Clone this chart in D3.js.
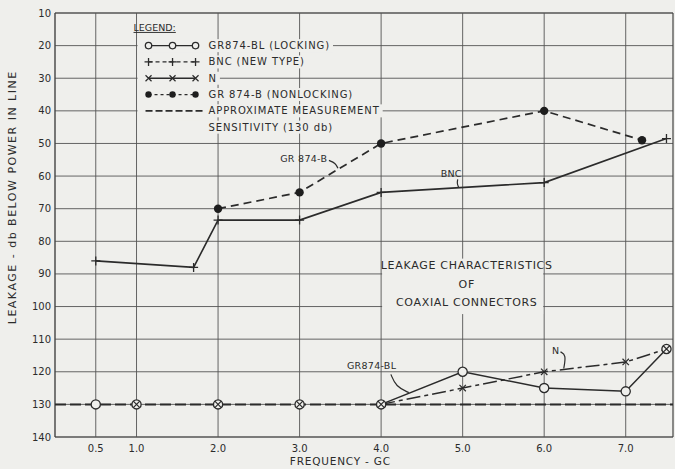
<!DOCTYPE html>
<html>
<head>
<meta charset="utf-8">
<script src="https://cdn.jsdelivr.net/npm/d3@7"></script>
<style>
  html, body { margin: 0; padding: 0; background: #efefec; }
  svg { display: block; }
  text { font-family: "DejaVu Sans", sans-serif; fill: #2b2b2b; }
</style>
</head>
<body>
<div id="chart"></div>
<script>
// values
const freqTicks = [0.5, 1.0, 2.0, 3.0, 4.0, 5.0, 6.0, 7.0];
const dbTicks = [10, 20, 30, 40, 50, 60, 70, 80, 90, 100, 110, 120, 130, 140];

const bncFreq = [0.5, 1.7, 2.0, 3.0, 4.0, 6.0, 7.5];
const bncDb = [86, 88, 73.5, 73.5, 65, 62, 48.5];

const grbFreq = [2.0, 3.0, 4.0, 6.0, 7.2];
const grbDb = [70, 65, 50, 40, 49];

const grblFreq = [0.5, 1.0, 2.0, 3.0, 4.0, 5.0, 6.0, 7.0, 7.5];
const grblDb = [130, 130, 130, 130, 130, 120, 125, 126, 113];

const nFreq = [1.0, 2.0, 3.0, 4.0, 5.0, 6.0, 7.0, 7.5];
const nDb = [130, 130, 130, 130, 125, 120, 117, 113];

const sensitivityDb = 130;

const legendLabels = ["GR874-BL (LOCKING)", "BNC (NEW TYPE)", "N",
  "GR 874-B (NONLOCKING)", "APPROXIMATE MEASUREMENT", "SENSITIVITY (130 db)"];
const titleLines = ["LEAKAGE CHARACTERISTICS", "OF", "COAXIAL CONNECTORS"];

const zip = (fs, ds) => fs.map((f, i) => ({f: f, db: ds[i]}));
const bnc = zip(bncFreq, bncDb);
const grb = zip(grbFreq, grbDb);
const grbl = zip(grblFreq, grblDb);
const nConn = zip(nFreq, nDb);

const width = 675, height = 469;
const margin = {top: 13, right: 2, bottom: 32, left: 55};
const ink = "#2b2b2b", paper = "#efefec";

const x = d3.scaleLinear().domain([0, 7.58]).range([margin.left, width - margin.right]);
const y = d3.scaleLinear().domain([10, 140]).range([margin.top, height - margin.bottom]);

const svg = d3.select("#chart").append("svg")
  .attr("width", width).attr("height", height);

svg.append("rect").attr("width", width).attr("height", height).attr("fill", paper);

// grid
svg.append("g").selectAll("line").data(dbTicks).join("line")
  .attr("x1", x.range()[0]).attr("x2", x.range()[1])
  .attr("y1", d => y(d)).attr("y2", d => y(d))
  .attr("stroke", "#555").attr("stroke-width", d => d === 10 || d === 140 ? 1.4 : 0.9);
svg.append("g").selectAll("line").data(freqTicks).join("line")
  .attr("x1", d => x(d)).attr("x2", d => x(d))
  .attr("y1", y(10)).attr("y2", y(140))
  .attr("stroke", "#555").attr("stroke-width", 0.9);
svg.append("line")
  .attr("x1", x(0)).attr("x2", x(0)).attr("y1", y(10)).attr("y2", y(140))
  .attr("stroke", "#444").attr("stroke-width", 1.4);
svg.append("line")
  .attr("x1", x.range()[1]).attr("x2", x.range()[1]).attr("y1", y(10)).attr("y2", y(140))
  .attr("stroke", "#444").attr("stroke-width", 1.2);

// tick labels
svg.append("g").selectAll("text").data(dbTicks).join("text")
  .attr("x", x(0) - 4).attr("y", d => y(d)).attr("dy", "0.35em")
  .attr("text-anchor", "end").attr("font-size", 10).text(d => d);
svg.append("g").selectAll("text").data(freqTicks).join("text")
  .attr("x", d => x(d)).attr("y", y(140) + 15)
  .attr("text-anchor", "middle").attr("font-size", 10).text(d => d.toFixed(1));

// axis titles
svg.append("text")
  .attr("transform", `translate(16,${y(66.5)}) rotate(-90)`)
  .attr("text-anchor", "middle").attr("font-size", 11).attr("letter-spacing", 1.5)
  .text("LEAKAGE - db BELOW POWER IN LINE");
svg.append("text")
  .attr("x", x(3.5)).attr("y", height - 4)
  .attr("text-anchor", "middle").attr("font-size", 10.5).attr("letter-spacing", 0.8)
  .text("FREQUENCY - GC");

// title block, knocked out of the grid between the 4.0 and 6.0 lines
svg.append("rect")
  .attr("x", x(4) + 1).attr("y", y(85) + 1)
  .attr("width", x(6) - x(4) - 2).attr("height", y(102) - y(85))
  .attr("fill", paper);
svg.append("g").selectAll("text").data(titleLines).join("text")
  .attr("x", x(5.05)).attr("y", (d, i) => y(88.5) + i * 18.5)
  .attr("text-anchor", "middle").attr("font-size", 11).attr("letter-spacing", 0.7)
  .text(d => d);

// sensitivity line
svg.append("line")
  .attr("x1", x.range()[0]).attr("x2", x.range()[1])
  .attr("y1", y(sensitivityDb)).attr("y2", y(sensitivityDb))
  .attr("stroke", ink).attr("stroke-width", 2).attr("stroke-dasharray", "11,4");

const line = d3.line().x(d => x(d.f)).y(d => y(d.db));

function drawLine(data, dash, w) {
  svg.append("path").datum(data)
    .attr("d", line).attr("fill", "none")
    .attr("stroke", ink).attr("stroke-width", w)
    .attr("stroke-dasharray", dash);
}
drawLine(bnc, null, 1.6);
drawLine(grb, "8,5", 1.7);
// locking and N curves only rise off the sensitivity floor from 4.0 GC
drawLine(grbl.filter(d => d.f >= 4), null, 1.5);
drawLine(nConn.filter(d => d.f >= 4), "14,4,4,4", 1.5);

// markers
function plus(g, s) {
  g.append("path").attr("d", `M${-s},0H${s}M0,${-s}V${s}`)
    .attr("stroke", ink).attr("stroke-width", 1.3);
}
function cross(g, s) {
  g.append("path").attr("d", `M${-s},${-s}L${s},${s}M${-s},${s}L${s},${-s}`)
    .attr("stroke", ink).attr("stroke-width", 1.2);
}
function ring(g, r) {
  g.append("circle").attr("r", r).attr("fill", paper)
    .attr("stroke", ink).attr("stroke-width", 1.3);
}
function dot(g, r) {
  g.append("circle").attr("r", r).attr("fill", "#1e1e1e");
}

svg.append("g").selectAll("g").data(grbl).join("g")
  .attr("transform", d => `translate(${x(d.f)},${y(d.db)})`)
  .each(function() { ring(d3.select(this), 4.6); });
svg.append("g").selectAll("g").data(nConn).join("g")
  .attr("transform", d => `translate(${x(d.f)},${y(d.db)})`)
  .each(function() { cross(d3.select(this), 3.2); });
svg.append("g").selectAll("g").data(bnc).join("g")
  .attr("transform", d => `translate(${x(d.f)},${y(d.db)})`)
  .each(function() { plus(d3.select(this), 4.5); });
svg.append("g").selectAll("g").data(grb).join("g")
  .attr("transform", d => `translate(${x(d.f)},${y(d.db)})`)
  .each(function() { dot(d3.select(this), 4.2); });

// legend
const legX = x(1) + 1;
const rowY = i => y(20) + i * (y(25) - y(20));
svg.append("text")
  .attr("x", legX - 4).attr("y", y(15.5)).attr("font-size", 9.5)
  .attr("text-decoration", "underline").text("LEGEND:");

const legRows = svg.append("g");
legendLabels.forEach((lab, i) => {
  const t = legRows.append("text")
    .attr("x", legX + 71).attr("y", rowY(i)).attr("dy", "0.35em")
    .attr("font-size", 10).attr("letter-spacing", 0.9).text(lab);
  const w = t.node().getComputedTextLength();
  legRows.insert("rect", "text")
    .attr("x", legX).attr("y", rowY(i) - 6.5)
    .attr("width", 71 + w + 3).attr("height", 13)
    .attr("fill", paper);
});

const sx = [legX + 11, legX + 35, legX + 58];
const sample = (i, dash, mark) => {
  legRows.append("line")
    .attr("x1", sx[0]).attr("x2", sx[2]).attr("y1", rowY(i)).attr("y2", rowY(i))
    .attr("stroke", ink).attr("stroke-width", 1.3).attr("stroke-dasharray", dash);
  sx.forEach(px => {
    const g = legRows.append("g").attr("transform", `translate(${px},${rowY(i)})`);
    mark(g);
  });
};
sample(0, null, g => ring(g, 3.2));
sample(1, "4,3", g => plus(g, 4));
sample(2, null, g => cross(g, 3));
sample(3, "3,3", g => dot(g, 3.2));
legRows.append("line")
  .attr("x1", legX + 8).attr("x2", legX + 66).attr("y1", rowY(4)).attr("y2", rowY(4))
  .attr("stroke", ink).attr("stroke-width", 1.6).attr("stroke-dasharray", "7,3");

// curve labels with leaders
const notes = [
  {text: "GR 874-B", f: 3.34, db: 55.8, anchor: "end",
   lead: [[3.36, 55.2], [3.44, 56], [3.47, 57.6]]},
  {text: "BNC", f: 4.86, db: 60.2, anchor: "middle",
   lead: [[4.94, 61], [4.93, 62.2], [4.95, 63.4]]},
  {text: "GR874-BL", f: 3.58, db: 119.2, anchor: "start",
   lead: [[4.12, 120.8], [4.18, 124.5], [4.34, 126.4]]},
  {text: "N", f: 6.14, db: 114.6, anchor: "middle",
   lead: [[6.2, 113.9], [6.27, 114.8], [6.24, 119]]}
];
const lead = d3.line().curve(d3.curveBasis).x(d => x(d[0])).y(d => y(d[1]));
notes.forEach(n => {
  svg.append("text")
    .attr("x", x(n.f)).attr("y", y(n.db))
    .attr("text-anchor", n.anchor).attr("font-size", 9.5).attr("letter-spacing", 0.3)
    .text(n.text);
  svg.append("path").attr("d", lead(n.lead))
    .attr("fill", "none").attr("stroke", ink).attr("stroke-width", 1.2);
});
</script>
</body>
</html>
